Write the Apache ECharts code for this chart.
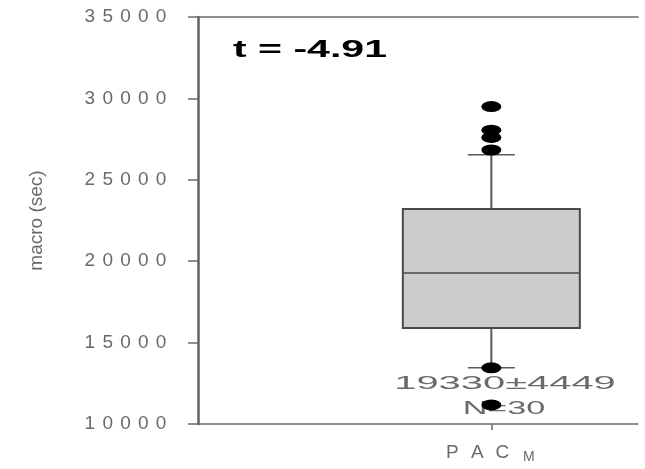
<!DOCTYPE html>
<html>
<head>
<meta charset="utf-8">
<script src="https://cdn.jsdelivr.net/npm/echarts@6/dist/echarts.min.js"></script>
<style>
  html, body { margin: 0; padding: 0; background: #fff; }
  #chart { width: 645px; height: 469px; }
</style>
</head>
<body>
<div id="chart"></div>
<script>
// ---- data ----
const categories = ['', '', 'PAC_M', ''];
// [categoryIndex, lowerWhisker, Q1, median, Q3, upperWhisker]
const boxStats = [[2, 13460, 15900, 19280, 23200, 26540]];
// outlier points [categoryIndex, value]
const outliers = [[2, 29500], [2, 28050], [2, 27600], [2, 26830], [2, 13450], [2, 11170]];
const yMin = 10000, yMax = 35000, yStep = 5000;
const yAxisTitle = 'macro (sec)';
const tStatText = 't = -4.91';
const meanSdText = '19330±4449';
const nText = 'N=30';

const FONT = 'Liberation Sans';
const chart = echarts.init(document.getElementById('chart'));

function spaced(str, key) {
  return String(str).split('').map(c => '{' + key + '|' + c + '}').join('');
}

const option = {
  backgroundColor: '#ffffff',
  animation: false,
  grid: { left: 198, right: 7, top: 17, bottom: 45 },
  xAxis: [{
    type: 'category',
    data: categories,
    boundaryGap: false,
    position: 'bottom',
    axisLine: { show: true, lineStyle: { color: '#6a6a6a', width: 1.5 } },
    axisTick: { show: true, length: 6, interval: (i) => i === 2, lineStyle: { color: '#6a6a6a', width: 1.5 } },
    axisLabel: {
      show: true,
      interval: (i) => i === 2,
      margin: 18,
      fontFamily: FONT,
      fontSize: 19,
      color: '#6a6a6a',
      formatter: (v) => v === 'PAC_M' ? '{p|P}{p|A}{p|C}{m|M}' : '',
      rich: {
        p: { fontFamily: FONT, fontSize: 19, lineHeight: 22, width: 25, align: 'center', color: '#6a6a6a' },
        m: { fontFamily: FONT, fontSize: 14, lineHeight: 12, width: 28, align: 'center', color: '#6a6a6a', verticalAlign: 'bottom' }
      }
    },
    splitLine: { show: false }
  }, {
    type: 'category',
    data: categories,
    boundaryGap: false,
    position: 'top',
    axisLine: { show: true, lineStyle: { color: '#6a6a6a', width: 1.5 } },
    axisTick: { show: false },
    axisLabel: { show: false },
    splitLine: { show: false }
  }],
  yAxis: {
    type: 'value',
    min: yMin, max: yMax, interval: yStep,
    name: yAxisTitle,
    nameLocation: 'middle',
    nameGap: 152,
    nameTextStyle: { fontFamily: FONT, fontSize: 19, color: '#6a6a6a' },
    axisLine: { show: true, lineStyle: { color: '#606060', width: 2.5 } },
    axisTick: { show: true, inside: false, length: 10, lineStyle: { color: '#6a6a6a', width: 1.5 } },
    axisLabel: {
      margin: 28,
      fontFamily: FONT,
      fontSize: 19,
      color: '#6a6a6a',
      formatter: (v) => spaced(v, 'd'),
      rich: { d: { fontFamily: FONT, fontSize: 19, width: 17.8, align: 'center', color: '#6a6a6a' } }
    },
    splitLine: { show: false }
  },
  series: [{
    type: 'custom',
    xAxisIndex: 0,
    data: boxStats,
    encode: { x: 0, y: [1, 2, 3, 4, 5] },
    renderItem: function (params, api) {
      const x = api.value(0);
      const lo = api.coord([x, api.value(1)]);
      const q1 = api.coord([x, api.value(2)]);
      const md = api.coord([x, api.value(3)]);
      const q3 = api.coord([x, api.value(4)]);
      const hi = api.coord([x, api.value(5)]);
      const cx = lo[0];
      const bw = 177, cw = 47;
      const whisk = { stroke: '#5a5a5a', lineWidth: 2 };
      const cap = { stroke: '#5a5a5a', lineWidth: 1.5 };
      return {
        type: 'group',
        children: [
          { type: 'line', shape: { x1: cx, y1: hi[1], x2: cx, y2: q3[1] }, style: whisk },
          { type: 'line', shape: { x1: cx, y1: q1[1], x2: cx, y2: lo[1] }, style: whisk },
          { type: 'line', shape: { x1: cx - cw / 2, y1: hi[1], x2: cx + cw / 2, y2: hi[1] }, style: cap },
          { type: 'line', shape: { x1: cx - cw / 2, y1: lo[1], x2: cx + cw / 2, y2: lo[1] }, style: cap },
          { type: 'rect', shape: { x: cx - bw / 2, y: q3[1], width: bw, height: q1[1] - q3[1] },
            style: { fill: '#cccccc', stroke: '#4a4a4a', lineWidth: 2 } },
          { type: 'line', shape: { x1: cx - bw / 2, y1: md[1], x2: cx + bw / 2, y2: md[1] },
            style: { stroke: '#4a4a4a', lineWidth: 1.5 } }
        ]
      };
    },
    z: 2
  }, {
    type: 'scatter',
    xAxisIndex: 0,
    data: outliers,
    symbol: 'circle',
    symbolSize: [20, 11],
    itemStyle: { color: '#000000', opacity: 1 },
    z: 5
  }],
  graphic: [
    { type: 'text', x: 233, y: 50, scaleX: 1.71,
      style: { text: tStatText, font: 'bold 24px ' + FONT, fill: '#000', textAlign: 'left', textVerticalAlign: 'middle' } },
    { type: 'text', x: 505, y: 384, scaleX: 2.1,
      style: { text: meanSdText, font: '19px ' + FONT, fill: '#6a6a6a', textAlign: 'center', textVerticalAlign: 'middle' }, z: 10 },
    { type: 'text', x: 504, y: 408.5, scaleX: 1.8,
      style: { text: nText, font: '19px ' + FONT, fill: '#6a6a6a', textAlign: 'center', textVerticalAlign: 'middle' }, z: 1 }
  ]
};
chart.setOption(option);
</script>
</body>
</html>
